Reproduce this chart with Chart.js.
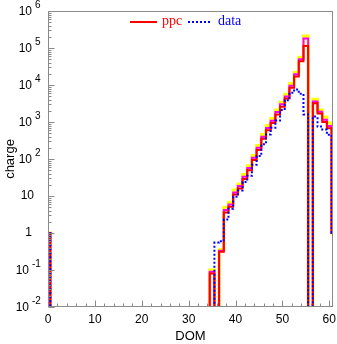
<!DOCTYPE html>
<html>
<head>
<meta charset="utf-8">
<script src="https://cdn.jsdelivr.net/npm/chart.js@4.4.0/dist/chart.umd.min.js"></script>
<style>
  html, body { margin: 0; padding: 0; background: #fff; }
  #wrap { width: 337px; height: 344px; }
</style>
</head>
<body>
<div id="wrap"><canvas id="domChart" width="337" height="344"></canvas></div>
<script>
// DOM number of each histogram bin (0..61)
const domBins = Array.from({ length: 62 }, (_, i) => i);

// simulated charge (ppc) per DOM
const ppcCharge = [
  1,
  0, 0, 0, 0, 0, 0, 0, 0, 0, 0, 0, 0, 0, 0, 0, 0, 0,
  0, 0, 0, 0, 0, 0, 0, 0, 0, 0, 0, 0, 0, 0, 0, 0, 0,
  0.08, 0, 0.31, 3.6, 5.1, 11, 16, 29, 50, 94, 175, 350, 600, 940,
  1600, 2600, 4300, 8400, 17000, 44000, 113000, 0, 3200, 1700, 1000, 680, 1
];

// upper bands of the simulation
const bandInner = [
  1,
  0, 0, 0, 0, 0, 0, 0, 0, 0, 0, 0, 0, 0, 0, 0, 0, 0,
  0, 0, 0, 0, 0, 0, 0, 0, 0, 0, 0, 0, 0, 0, 0, 0, 0,
  0.09, 0, 0.33, 4.2, 5.9, 12.5, 18.5, 33, 57, 108, 200, 400, 690, 1080,
  1850, 3000, 4900, 9600, 19500, 50000, 180000, 0, 3600, 1900, 1150, 780, 1
];
const bandOuter = [
  1,
  0, 0, 0, 0, 0, 0, 0, 0, 0, 0, 0, 0, 0, 0, 0, 0, 0,
  0, 0, 0, 0, 0, 0, 0, 0, 0, 0, 0, 0, 0, 0, 0, 0, 0,
  0.1, 0, 0.35, 5.0, 6.8, 14.5, 21, 38, 66, 125, 230, 460, 790, 1250,
  2100, 3400, 5600, 11000, 22000, 56000, 210000, 0, 4100, 2100, 1370, 940, 1
];

// measured charge per DOM
const dataCharge = [
  1,
  0, 0, 0, 0, 0, 0, 0, 0, 0, 0, 0, 0, 0, 0, 0, 0, 0,
  0, 0, 0, 0, 0, 0, 0, 0, 0, 0, 0, 0, 0, 0, 0, 0, 0,
  0, 0.55, 0.6, 2.3, 4.5, 9.5, 14, 24, 35, 70, 120, 250, 460, 700,
  1100, 2100, 3900, 6200, 7600, 5800, 1600, 0, 1400, 750, 630, 450, 1
];

const xTicks = [0, 10, 20, 30, 40, 50, 60];
const yDecades = [-2, -1, 0, 1, 2, 3, 4, 5, 6];

const FLOOR = 1e-3; // empty bins sit below the axis and get clipped

// histogram outline: one point per left bin edge, closed at the last right edge
function outline(vals) {
  const pts = vals.map((v, i) => ({ x: domBins[i] - 0.5, y: v > 0 ? v : FLOOR }));
  pts.push({ x: domBins[domBins.length - 1] + 0.5, y: FLOOR });
  return pts;
}

const GREY = '#8a8a8a';

const framePlugin = {
  id: 'frame',
  afterDraw(chart) {
    const { ctx, chartArea: a, scales: { x, y } } = chart;
    ctx.save();
    ctx.strokeStyle = GREY;
    ctx.lineWidth = 1;
    const L = Math.round(a.left) + 0.5, R = Math.round(a.right) - 0.5;
    const T = Math.round(a.top) + 0.5, B = Math.round(a.bottom) - 0.5;
    ctx.strokeRect(L, T, R - L, B - T);

    // inward ticks
    ctx.beginPath();
    for (let v = 0; v <= x.max; v += 2) {
      const px = Math.round(x.getPixelForValue(v)) + 0.5;
      const len = v % 10 === 0 ? 6 : 3;
      ctx.moveTo(px, B); ctx.lineTo(px, B - len);
    }
    for (let e = -2; e <= 6; e++) {
      for (let m = 1; m <= 9; m++) {
        const v = m * Math.pow(10, e);
        if (v > y.max) break;
        const py = Math.round(y.getPixelForValue(v)) + 0.5;
        const len = m === 1 ? 6 : 3;
        ctx.moveTo(L, py); ctx.lineTo(L + len, py);
      }
    }
    ctx.stroke();

    // tick labels
    ctx.fillStyle = '#000';
    ctx.font = '12px "Liberation Sans", Arial, sans-serif';
    ctx.textAlign = 'center';
    ctx.textBaseline = 'middle';
    xTicks.forEach(v => ctx.fillText(String(v), x.getPixelForValue(v), 320));

    yDecades.forEach(e => {
      const py = y.getPixelForValue(Math.pow(10, e));
      ctx.font = '12px "Liberation Sans", Arial, sans-serif';
      ctx.textAlign = 'right';
      if (e === 0) { ctx.fillText('1', 32, py); return; }
      if (e === 1) { ctx.fillText('10', 34, py); return; }
      const baseRight = e < 0 ? 29 : 32;
      ctx.fillText('10', baseRight, py + 1);
      ctx.font = '10px "Liberation Sans", Arial, sans-serif';
      ctx.textAlign = 'left';
      ctx.fillText(String(e), baseRight + 3, py - 6);
    });

    // axis titles
    ctx.font = '13px "Liberation Sans", Arial, sans-serif';
    ctx.textAlign = 'center';
    ctx.fillText('DOM', (a.left + a.right) / 2, 336);
    ctx.save();
    ctx.translate(10, (a.top + a.bottom) / 2);
    ctx.rotate(-Math.PI / 2);
    ctx.fillText('charge', 0, 0);
    ctx.restore();

    // legend
    ctx.lineWidth = 2;
    ctx.strokeStyle = '#ff0000';
    ctx.beginPath(); ctx.moveTo(130, 22); ctx.lineTo(157, 22); ctx.stroke();
    ctx.strokeStyle = '#0000ff';
    ctx.setLineDash([2, 2]);
    ctx.beginPath(); ctx.moveTo(188, 22); ctx.lineTo(212, 22); ctx.stroke();
    ctx.setLineDash([]);
    ctx.font = '14px "Liberation Serif", "Times New Roman", serif';
    ctx.textAlign = 'left';
    ctx.textBaseline = 'alphabetic';
    ctx.fillStyle = '#ff0000';
    ctx.fillText('ppc', 162, 25);
    ctx.fillStyle = '#0000ff';
    ctx.fillText('data', 218, 25);
    ctx.restore();
  }
};

const stepLine = (label, vals, color, width, dash) => ({
  label,
  data: outline(vals),
  borderColor: color,
  borderWidth: width,
  borderDash: dash || [],
  stepped: true,
  fill: false,
  pointRadius: 0,
  clip: 0
});

new Chart(document.getElementById('domChart'), {
  type: 'line',
  data: {
    datasets: [
      stepLine('data', dataCharge, '#0000ff', 2, [2, 2]),
      stepLine('ppc', ppcCharge, '#ff0000', 2),
      stepLine('band 1', bandInner, '#ff00ff', 2),
      stepLine('band 2', bandOuter, '#ffff00', 3)
    ]
  },
  options: {
    responsive: false,
    animation: false,
    devicePixelRatio: 1,
    layout: { padding: { left: 48, top: 11, right: 4, bottom: 37 } },
    plugins: { legend: { display: false }, tooltip: { enabled: false } },
    scales: {
      x: { type: 'linear', min: 0, max: 60.8, display: false },
      y: { type: 'logarithmic', min: 1e-2, max: 1e6, display: false }
    }
  },
  plugins: [framePlugin]
});
</script>
</body>
</html>
